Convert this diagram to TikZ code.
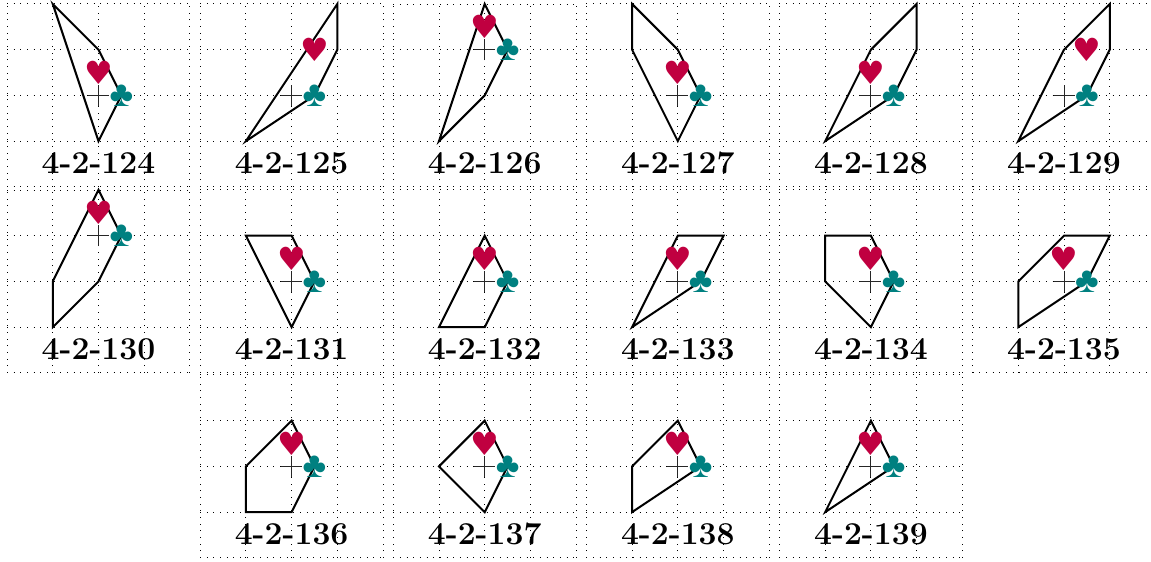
\documentclass[tikz,border=0pt]{standalone}
\usepackage{fontspec}
\newfontfamily\clubfont{Liberation Sans}
\newfontfamily\heartfont{DejaVu Sans}
\definecolor{heartc}{HTML}{C00040}
\definecolor{clubc}{HTML}{008080}
\tikzset{
  griddots/.style={line width=0.7pt,dash pattern=on 0.7pt off 4.3pt,black},
  kite/.style={line width=1.5pt,line join=miter,black},
  crosshair/.style={line width=0.7pt,black!85},
  clubmark/.style={inner sep=0pt,text=clubc,font=\clubfont\fontsize{27}{27}\selectfont},
  heartmark/.style={inner sep=0pt,text=heartc,font=\heartfont\fontsize{24}{24}\selectfont},
  tag/.style={inner sep=0pt,font=\fontsize{23.9}{24}\selectfont\bfseries}
}
% #1 col, #2 row-top px, #3 centre y below grid top (cells), #4 polygon, #5 heart pos, #6 label
\newcommand{\panelfig}[6]{%
  \begin{scope}[shift={({(98.5+193.1*#1)*0.75pt},{-(#2+45.7*#3)*0.75pt})},x=34.3pt,y=34.3pt]
    \draw[griddots,step=1] (-2,{#3-4}) grid (2,#3);
    \draw[kite] #4 -- cycle;
    \draw[crosshair] (-0.23,0) -- (0.23,0) (0,-0.23) -- (0,0.23);
    \node[heartmark] (h#6) at #5 {♥};
    \node[clubmark] (c#6) at (0.5,0) {♣};
  \end{scope}
  \node[tag] (t#6) at ({(98.5+193.1*#1)*0.75pt},{-(#2+159)*0.75pt}) {4-2-#6};
}
\begin{document}
\begin{tikzpicture}
\useasboundingbox (0,0) rectangle (863.25pt,-420.75pt);
\panelfig{0}{4}{2}{(-1,2)--(0,1)--(0.5,0)--(0,-1)}{(0,0.5)}{124}
\panelfig{1}{4}{2}{(1,2)--(1,1)--(0.5,0)--(-1,-1)}{(0.5,1)}{125}
\panelfig{2}{4}{1}{(0,1)--(0.5,0)--(0,-1)--(-1,-2)}{(0,0.5)}{126}
\panelfig{3}{4}{2}{(-1,2)--(-1,1)--(0,-1)--(0.5,0)--(0,1)}{(0,0.5)}{127}
\panelfig{4}{4}{2}{(1,2)--(1,1)--(0.5,0)--(-1,-1)--(0,1)}{(0,0.5)}{128}
\panelfig{5}{4}{2}{(1,2)--(1,1)--(0.5,0)--(-1,-1)--(0,1)}{(0.5,1)}{129}
\panelfig{0}{190}{1}{(0,1)--(0.5,0)--(0,-1)--(-1,-2)--(-1,-1)}{(0,0.5)}{130}
\panelfig{1}{190}{2}{(-1,1)--(0,1)--(0.5,0)--(0,-1)}{(0,0.5)}{131}
\panelfig{2}{190}{2}{(0,1)--(0.5,0)--(0,-1)--(-1,-1)}{(0,0.5)}{132}
\panelfig{3}{190}{2}{(1,1)--(0.5,0)--(-1,-1)--(0,1)}{(0,0.5)}{133}
\panelfig{4}{190}{2}{(-1,1)--(0,1)--(0.5,0)--(0,-1)--(-1,0)}{(0,0.5)}{134}
\panelfig{5}{190}{2}{(1,1)--(0,1)--(-1,0)--(-1,-1)--(0.5,0)}{(0,0.5)}{135}
\panelfig{1}{375}{2}{(0,1)--(0.5,0)--(0,-1)--(-1,-1)--(-1,0)}{(0,0.5)}{136}
\panelfig{2}{375}{2}{(0,1)--(0.5,0)--(0,-1)--(-1,0)}{(0,0.5)}{137}
\panelfig{3}{375}{2}{(0,1)--(0.5,0)--(-1,-1)--(-1,0)}{(0,0.5)}{138}
\panelfig{4}{375}{2}{(0,1)--(0.5,0)--(-1,-1)}{(0,0.5)}{139}
\end{tikzpicture}
\end{document}
